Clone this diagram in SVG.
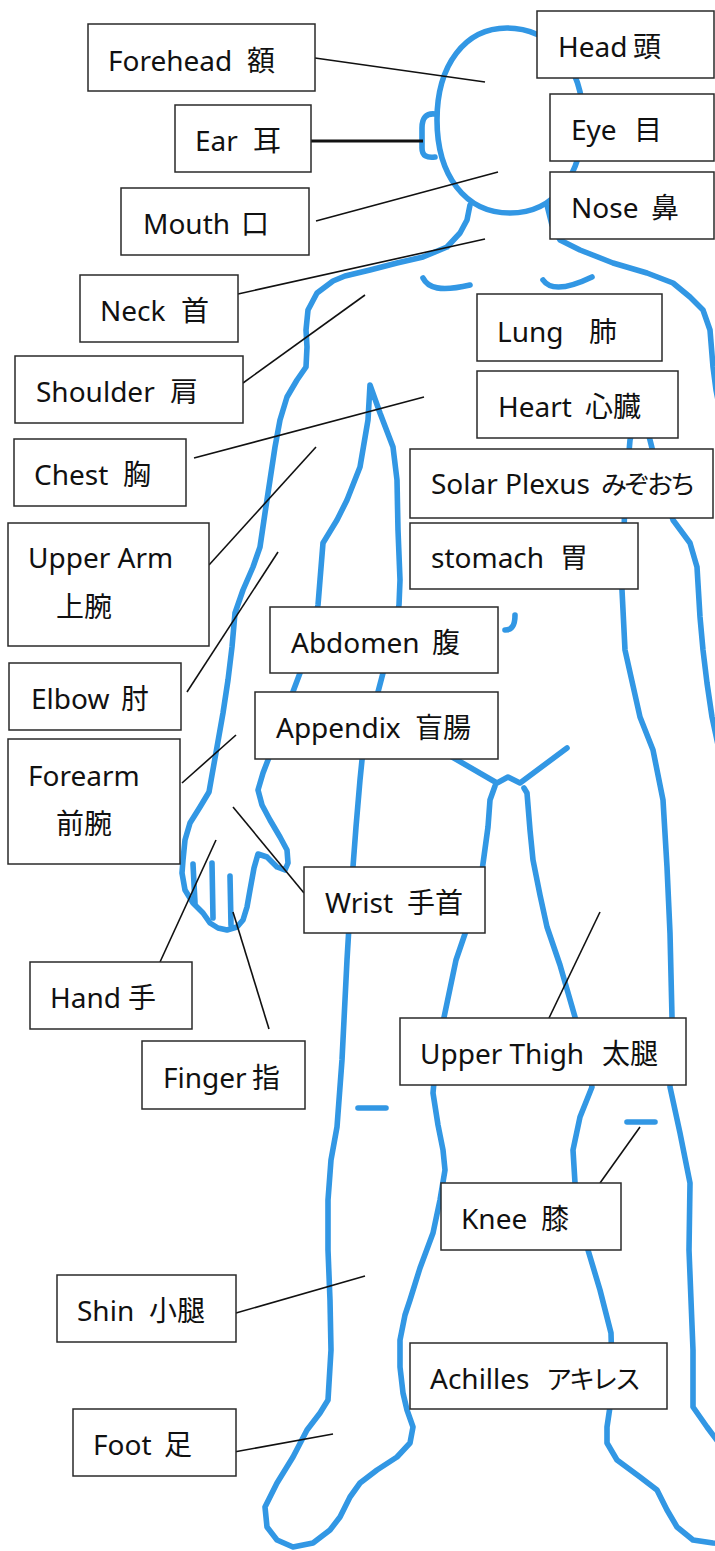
<svg xmlns="http://www.w3.org/2000/svg" width="715" height="1551" viewBox="0 0 715 1551">
<style>
.body{fill:none;stroke:#3197e4;stroke-width:5.6;stroke-linecap:round;stroke-linejoin:round}
.box{fill:#fff;stroke:#2a2a2a;stroke-width:1.5}
.lbl{font-family:"Noto Sans","Noto Sans CJK JP",sans-serif;font-size:28px;fill:#111}
.cj{font-family:"Noto Sans CJK JP",sans-serif}
.kana{font-family:"Noto Sans CJK JP",sans-serif;font-size:26px;letter-spacing:-3px}
.con{stroke:#111;stroke-width:1.6;fill:none}
</style>
<defs>
<filter id="soft" x="-5%" y="-5%" width="110%" height="110%"><feGaussianBlur stdDeviation="0.6"/></filter>
</defs>
<rect width="715" height="1551" fill="#fff"/>
<g id="figure" class="body" filter="url(#soft)">
<path d="M507 28 C465 28 437 65 437 120 C437 175 465 213 510 213 C555 213 583 175 583 120 C583 65 550 28 507 28 Z"/>
<path d="M435 114 C426 113 422 118 422 128 L422 148 C422 156 427 158 435 157"/>
<path d="M470 205 L467 220 L460 233 L447 247 L423 257 L397 263 L370 270 L345 276 L333 281 L317 293 L308 310 L306 330 L307 347 L306 367 L297 380 L287 397 L280 420 L275 447 L270 480 L265 513 L260 547 L253 567 L243 590 L235 613 L232 647 L228 680 L223 713 L217 747 L212 775 L209 792 L200 807 L190 823 L185 840 L183 860 L182 873 L185 890 L193 903 L203 913 L210 923 L218 928 L227 930 L237 927 L243 920 L247 907 L250 890 L254 868 L258 854 L267 857 L277 867 L285 870 L288 863 L287 850 L280 837 L270 820 L262 805 L258 790 L263 773 L268 760 L278 735 L288 705 L300 673 L310 640 L318 605 L320 580 L323 543 L337 520 L347 500 L360 467 L368 420 L370 385 L380 413 L393 447 L397 480 L398 530 L400 580 L399 605 L392 640 L383 673 L378 692 L370 725 L362 760 L360 780 L356 827 L351 893 L347 960 L342 1060 L337 1127 L331 1160 L328 1200 L328 1250 L330 1300 L331 1350 L328 1400 L320 1413 L307 1430 L293 1457 L277 1483 L265 1507 L267 1527 L277 1540 L293 1547 L313 1543 L330 1530 L340 1517 L350 1497 L360 1483 L377 1470 L397 1457 L410 1443 L413 1427 L407 1410 L403 1393 L400 1367 L400 1340 L405 1315 L410 1300 L420 1268 L433 1233 L440 1200 L445 1170 L443 1150 L438 1125 L433 1093 L436 1060 L442 1027 L456 960 L479 893 L488 827 L490 800 L495 786"/>
<path d="M193 864 L195 903 M212 863 L213 918 M230 876 L231 925"/>
<path d="M440 750 L497 783 L508 777 L520 783 L567 748"/>
<path d="M524 788 L527 793 L530 830 L533 860 L540 895 L547 927 L560 965 L575 1017 L585 1055 L592 1087 L580 1117 L573 1150 L575 1183 L581 1215 L588 1250 L600 1290 L611 1333 L612 1370 L611 1400 L607 1427 L607 1443 L617 1460 L640 1477 L657 1490 L667 1510 L677 1527 L693 1540 L713 1543 L740 1545"/>
<path d="M547 205 L552 225 L560 240 L580 250 L613 263 L647 273 L673 283 L690 297 L703 310 L710 330 L713 367 L716 390 L720 410"/>
<path d="M640 400 L650 440 L660 480 L673 520 L690 543 L697 567 L700 617 L703 650 L707 683 L712 717 L718 745"/>
<path d="M640 400 L630 440 L625 500 L622 590 L625 650 L640 717 L653 750 L663 800 L667 867 L670 933 L672 1017 L670 1087 L680 1133 L690 1183 L689 1250 L693 1350 L693 1407 L707 1427 L722 1447"/>
<path d="M423 278 C428 288 440 292 470 285"/>
<path d="M543 280 C550 290 565 290 592 277"/>
<path d="M515 615 C515 622 514 630 505 630"/>
<path d="M358 1108 L386 1108 M627 1122 L655 1122"/>
</g>
<g id="connectors" class="con">
<line x1="315" y1="58" x2="485" y2="82"/>
<line x1="311" y1="141" x2="423" y2="141" stroke-width="3"/>
<line x1="316" y1="221" x2="498" y2="172"/>
<line x1="238" y1="294" x2="485" y2="239"/>
<line x1="243" y1="383" x2="365" y2="295"/>
<line x1="194" y1="458" x2="424" y2="397"/>
<line x1="209" y1="565" x2="316" y2="447"/>
<line x1="187" y1="692" x2="278" y2="552"/>
<line x1="182" y1="783" x2="236" y2="735"/>
<line x1="233" y1="807" x2="304" y2="893"/>
<line x1="160" y1="962" x2="216" y2="840"/>
<line x1="233" y1="912" x2="269" y2="1029"/>
<line x1="549" y1="1018" x2="600" y2="912"/>
<line x1="600" y1="1183" x2="640" y2="1127"/>
<line x1="236" y1="1313" x2="365" y2="1276"/>
<line x1="234" y1="1452" x2="333" y2="1434"/>
</g>
<g id="forehead"><rect class="box" x="88" y="24" width="227" height="67"/><text class="lbl" x="108" y="71">Forehead <tspan class="cj" x="247">額</tspan></text></g>
<g id="head"><rect class="box" x="537" y="11" width="177" height="67"/><text class="lbl" x="558" y="57">Head <tspan class="cj" x="633">頭</tspan></text></g>
<g id="ear"><rect class="box" x="175" y="105" width="136" height="67"/><text class="lbl" x="195" y="151">Ear <tspan class="cj" x="253">耳</tspan></text></g>
<g id="eye"><rect class="box" x="550" y="94" width="164" height="67"/><text class="lbl" x="571" y="140">Eye <tspan class="cj" x="634">目</tspan></text></g>
<g id="mouth"><rect class="box" x="121" y="188" width="188" height="67"/><text class="lbl" x="143" y="234">Mouth <tspan class="cj" x="241">口</tspan></text></g>
<g id="nose"><rect class="box" x="550" y="172" width="164" height="67"/><text class="lbl" x="571" y="218">Nose <tspan class="cj" x="651">鼻</tspan></text></g>
<g id="neck"><rect class="box" x="80" y="275" width="158" height="67"/><text class="lbl" x="100" y="321">Neck <tspan class="cj" x="181">首</tspan></text></g>
<g id="lung"><rect class="box" x="477" y="294" width="185" height="67"/><text class="lbl" x="497" y="342">Lung　<tspan class="cj" x="589">肺</tspan></text></g>
<g id="shoulder"><rect class="box" x="15" y="356" width="228" height="67"/><text class="lbl" x="36" y="402">Shoulder <tspan class="cj" x="170">肩</tspan></text></g>
<g id="heart"><rect class="box" x="477" y="371" width="201" height="67"/><text class="lbl" x="498" y="417">Heart <tspan class="cj" x="585">心臓</tspan></text></g>
<g id="chest"><rect class="box" x="14" y="439" width="172" height="67"/><text class="lbl" x="34" y="485">Chest <tspan class="cj" x="123">胸</tspan></text></g>
<g id="solar-plexus"><rect class="box" x="410" y="449" width="303" height="69"/><text class="lbl" x="431" y="494">Solar Plexus <tspan class="kana" x="601">みぞおち</tspan></text></g>
<g id="upper-arm"><rect class="box" x="8" y="523" width="201" height="123"/><text class="lbl" x="28" y="568">Upper Arm</text><text class="lbl cj" x="56" y="617">上腕</text></g>
<g id="stomach"><rect class="box" x="410" y="523" width="228" height="66"/><text class="lbl" x="431" y="568">stomach <tspan class="cj" x="560">胃</tspan></text></g>
<g id="abdomen"><rect class="box" x="270" y="607" width="228" height="66"/><text class="lbl" x="291" y="653">Abdomen <tspan class="cj" x="432">腹</tspan></text></g>
<g id="elbow"><rect class="box" x="9" y="663" width="172" height="67"/><text class="lbl" x="31" y="709">Elbow <tspan class="cj" x="121">肘</tspan></text></g>
<g id="appendix"><rect class="box" x="255" y="692" width="243" height="67"/><text class="lbl" x="276" y="738">Appendix <tspan class="cj" x="415">盲腸</tspan></text></g>
<g id="forearm"><rect class="box" x="8" y="739" width="172" height="125"/><text class="lbl" x="28" y="786">Forearm</text><text class="lbl cj" x="56" y="834">前腕</text></g>
<g id="wrist"><rect class="box" x="304" y="867" width="181" height="66"/><text class="lbl" x="325" y="913">Wrist <tspan class="cj" x="407">手首</tspan></text></g>
<g id="hand"><rect class="box" x="30" y="962" width="162" height="67"/><text class="lbl" x="50" y="1008">Hand <tspan class="cj" x="128">手</tspan></text></g>
<g id="finger"><rect class="box" x="142" y="1041" width="163" height="68"/><text class="lbl" x="163" y="1088">Finger <tspan class="cj" x="252">指</tspan></text></g>
<g id="upper-thigh"><rect class="box" x="400" y="1018" width="286" height="67"/><text class="lbl" x="420" y="1064">Upper Thigh <tspan class="cj" x="602">太腿</tspan></text></g>
<g id="knee"><rect class="box" x="441" y="1183" width="180" height="67"/><text class="lbl" x="461" y="1229">Knee <tspan class="cj" x="541">膝</tspan></text></g>
<g id="shin"><rect class="box" x="57" y="1275" width="179" height="67"/><text class="lbl" x="77" y="1321">Shin <tspan class="cj" x="149">小腿</tspan></text></g>
<g id="achilles"><rect class="box" x="410" y="1343" width="257" height="66"/><text class="lbl" x="430" y="1389">Achilles <tspan class="kana" x="546">アキレス</tspan></text></g>
<g id="foot"><rect class="box" x="73" y="1409" width="163" height="67"/><text class="lbl" x="93" y="1455">Foot <tspan class="cj" x="164">足</tspan></text></g>
</svg>
